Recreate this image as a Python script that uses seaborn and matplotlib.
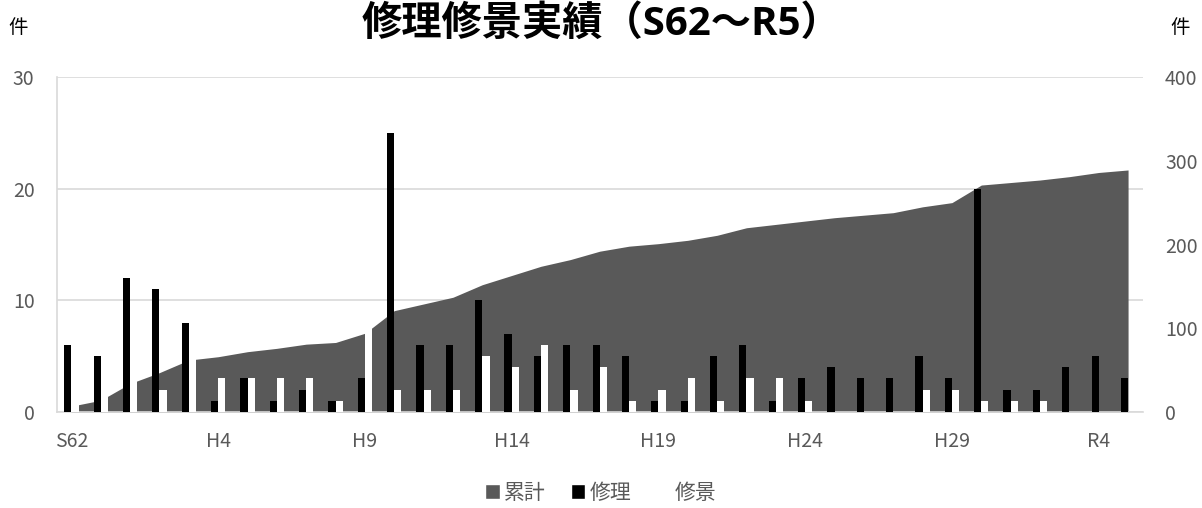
import numpy as np
import pandas as pd
import matplotlib.pyplot as plt
import seaborn as sns
from matplotlib.patches import Patch

# === Data ===
years = ["S62", "S63"] + [f"H{i}" for i in range(1, 31)] + [f"R{i}" for i in range(1, 6)]
shuri = [6, 5, 12, 11, 8, 1, 3, 1, 2, 1, 3, 25, 6, 6, 10, 7, 5, 6, 6, 5,
         1, 1, 5, 6, 1, 3, 4, 3, 3, 5, 3, 20, 2, 2, 4, 5, 3]
shukei = [1, 2, 8, 2, 7, 3, 3, 3, 3, 1, 8, 2, 2, 2, 5, 4, 6, 2, 4, 1,
          2, 3, 1, 3, 3, 1, 0, 0, 0, 2, 2, 1, 1, 1, 0, 0, 0]
ruikei = [7, 14, 34, 47, 62, 66, 72, 76, 81, 83, 94, 121, 129, 137, 152, 163, 174, 182, 192, 198,
          201, 205, 211, 220, 224, 228, 232, 235, 238, 245, 250, 271, 274, 277, 281, 286, 289]

left_ticks = [0, 10, 20, 30]
right_ticks = [0, 100, 200, 300, 400]
LEFT_MAX, RIGHT_MAX = 30, 400

df = pd.DataFrame({
    "年度": years * 2,
    "件数": shuri + shukei,
    "種別": ["修理"] * len(years) + ["修景"] * len(years),
})

# === Style ===
sns.set_style("white")
plt.rcParams["font.family"] = ["Noto Sans CJK JP", "DejaVu Sans"]
GRAY_TXT = "#595959"
AREA = "#595959"
GRID = "#d9d9d9"

fig = plt.figure(figsize=(12.02, 5.08), dpi=100)
ax = fig.add_axes([0.0472, 0.189, 0.9035, 0.6594])

# cumulative area, drawn in left-axis units (right axis is a rescaled view)
x = np.arange(len(years))
ax.fill_between(x, np.array(ruikei) * LEFT_MAX / RIGHT_MAX, 0,
                color=AREA, linewidth=0, zorder=2)

sns.barplot(data=df, x="年度", y="件数", hue="種別", order=years,
            hue_order=["修理", "修景"], palette={"修理": "black", "修景": "white"},
            width=0.49, saturation=1, linewidth=0, legend=False, ax=ax)
for p in ax.patches:
    p.set_zorder(3)

ax.set_xlim(-0.5, len(years) - 0.5)
ax.set_ylim(0, LEFT_MAX)
ax.set_yticks(left_ticks)
ax.set_xticks(x[::5])
ax.set_xticklabels(years[::5])
ax.set_xlabel("")
ax.set_ylabel("")
ax.grid(axis="y", color=GRID, linewidth=1.2)
ax.set_axisbelow(True)
ax.tick_params(axis="y", length=0, pad=16, labelsize=14, labelcolor=GRAY_TXT)
ax.tick_params(axis="x", length=0, pad=14, labelsize=14, labelcolor=GRAY_TXT)

for s in ["top", "right"]:
    ax.spines[s].set_visible(False)
ax.spines["left"].set_color(GRID)
ax.spines["bottom"].set_color(GRID)
ax.spines["left"].set_linewidth(1.2)
ax.spines["bottom"].set_linewidth(1.2)

sec = ax.secondary_yaxis("right", functions=(lambda v: v * RIGHT_MAX / LEFT_MAX,
                                             lambda v: v * LEFT_MAX / RIGHT_MAX))
sec.set_yticks(right_ticks)
sec.tick_params(length=0, pad=16, labelsize=14, labelcolor=GRAY_TXT)
sec.spines["right"].set_visible(False)

# === Texts ===
fig.text(0.5, 0.952, "修理修景実績（S62～R5）", ha="center", va="center",
         fontsize=29, fontweight="bold", color="black",
         family=["Open Sans", "Noto Sans CJK JP"])
fig.text(0.015, 0.945, "件", ha="center", va="center", fontsize=14, color="black")
fig.text(0.982, 0.945, "件", ha="center", va="center", fontsize=14, color="black")

handles = [Patch(facecolor=AREA), Patch(facecolor="black"), Patch(facecolor="white")]
fig.legend(handles, ["累計", "修理", "修景"], loc="center", bbox_to_anchor=(0.5, 0.03),
           ncol=3, frameon=False, fontsize=15, labelcolor=GRAY_TXT,
           handlelength=0.7, handleheight=0.7, handletextpad=0.2, columnspacing=1.2)

plt.savefig("out.png", dpi=100)
